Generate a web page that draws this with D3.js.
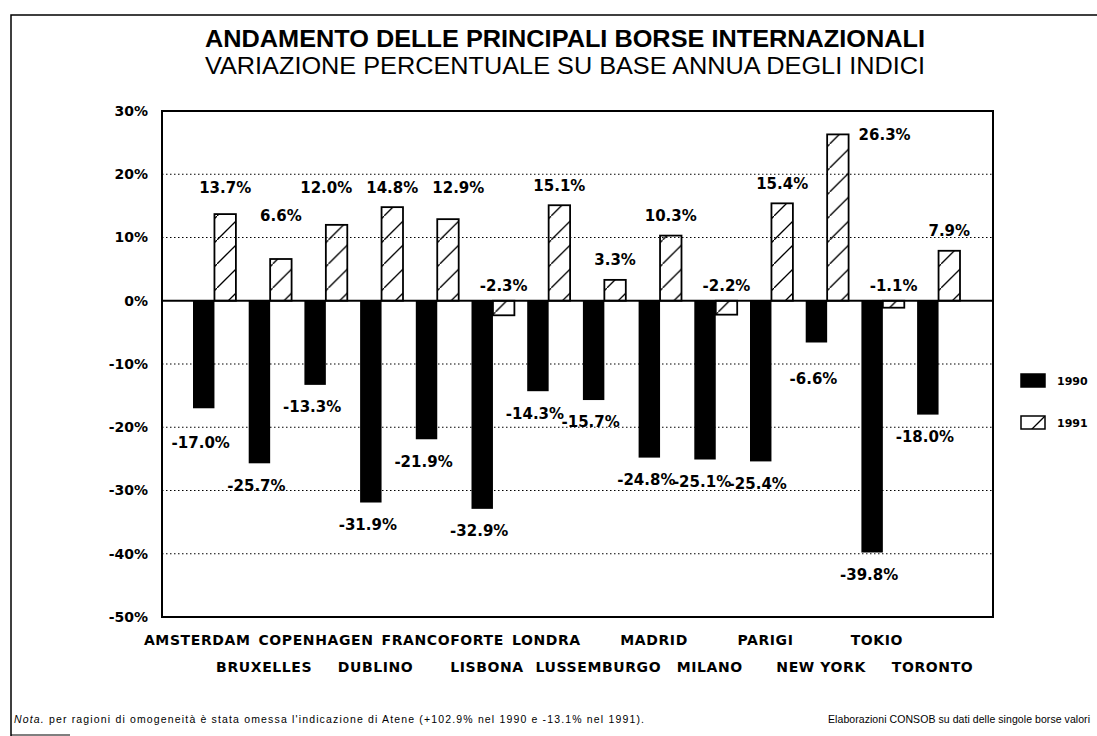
<!DOCTYPE html>
<html>
<head>
<meta charset="utf-8">
<script src="https://cdn.jsdelivr.net/npm/d3@7"></script>
<style>
  body { margin: 0; background: #fff; }
  svg { display: block; }
</style>
</head>
<body>
<div id="container"></div>
<script>
let w = 1097;
let h = 736;

// data
let cities = ['AMSTERDAM', 'BRUXELLES', 'COPENHAGEN', 'DUBLINO', 'FRANCOFORTE', 'LISBONA', 'LONDRA',
  'LUSSEMBURGO', 'MADRID', 'MILANO', 'PARIGI', 'NEW YORK', 'TOKIO', 'TORONTO'];
let years = ['1990', '1991'];
let v1990 = [-17.0, -25.7, -13.3, -31.9, -21.9, -32.9, -14.3, -15.7, -24.8, -25.1, -25.4, -6.6, -39.8, -18.0];
let v1991 = [13.7, 6.6, 12.0, 14.8, 12.9, -2.3, 15.1, 3.3, 10.3, -2.2, 15.4, 26.3, -1.1, 7.9];
let yTicks = [30, 20, 10, 0, -10, -20, -30, -40, -50];
let gridTicks = [20, 10, -10, -20, -30, -40];

let plot = {left: 162, right: 993, top: 111, bottom: 617};

let viz = d3.select('#container').append('svg')
    .attr('width', w)
    .attr('height', h);

let defs = viz.append('defs');
defs.append('pattern')
    .attr('id', 'hatch')
    .attr('patternUnits', 'userSpaceOnUse')
    .attr('width', 24)
    .attr('height', 24)
  .append('path')
    .attr('d', 'M-2,26 L26,-2')
    .attr('stroke', '#000')
    .attr('stroke-width', 1.3);

let x = d3.scaleBand()
    .domain(cities)
    .range([186.6, 966.4])
    .paddingInner(0.23)
    .paddingOuter(0.115);

let xs = d3.scaleBand()
    .domain(years)
    .range([0, x.bandwidth()]);

let y = d3.scaleLinear()
    .domain([-50, 30])
    .range([plot.bottom, plot.top]);

// page frame (scan edge)
viz.append('path')
    .attr('d', 'M11,736 L11,15 L1097,15')
    .attr('fill', 'none')
    .attr('stroke', '#000')
    .attr('stroke-width', 1.5);
viz.append('path')
    .attr('d', 'M11,735 L70,735')
    .attr('stroke', '#000')
    .attr('stroke-width', 1.2);

// titles
viz.append('text')
    .text('ANDAMENTO DELLE PRINCIPALI BORSE INTERNAZIONALI')
    .attr('x', 205)
    .attr('y', 47)
    .attr('textLength', 720)
    .attr('lengthAdjust', 'spacingAndGlyphs')
    .attr('font-family', 'Liberation Sans, Arial, sans-serif')
    .attr('font-weight', 'bold')
    .attr('font-size', '23px');

viz.append('text')
    .text('VARIAZIONE PERCENTUALE SU BASE ANNUA DEGLI INDICI')
    .attr('x', 205)
    .attr('y', 74)
    .attr('textLength', 720)
    .attr('lengthAdjust', 'spacingAndGlyphs')
    .attr('font-family', 'Liberation Sans, Arial, sans-serif')
    .attr('font-size', '23px');

// gridlines
viz.append('g')
    .selectAll('line')
    .data(gridTicks)
    .join('line')
    .attr('x1', plot.left)
    .attr('x2', plot.right)
    .attr('y1', d => y(d))
    .attr('y2', d => y(d))
    .attr('stroke', '#000')
    .attr('stroke-width', 1.2)
    .attr('stroke-dasharray', '1.5,2.5');

// y axis labels
let yAxis = viz.append('g')
    .attr('transform', `translate(${plot.left},0)`)
    .call(d3.axisLeft(y).tickValues(yTicks).tickSize(0).tickPadding(14).tickFormat(d => d + '%'));
yAxis.select('.domain').remove();
yAxis.selectAll('text')
    .attr('font-family', 'DejaVu Sans, sans-serif')
    .attr('font-weight', 'bold')
    .attr('font-size', '14px')
    .attr('fill', '#000');

// bars
let groups = viz.append('g')
    .selectAll('g')
    .data(cities)
    .join('g')
    .attr('transform', d => `translate(${x(d)},0)`);

groups.append('rect')
    .attr('x', xs('1990'))
    .attr('width', xs.bandwidth())
    .attr('y', (d, i) => y(Math.max(0, v1990[i])))
    .attr('height', (d, i) => Math.abs(y(v1990[i]) - y(0)))
    .attr('fill', '#000');

groups.append('rect')
    .attr('x', xs('1991'))
    .attr('width', xs.bandwidth())
    .attr('y', (d, i) => y(Math.max(0, v1991[i])))
    .attr('height', (d, i) => Math.abs(y(v1991[i]) - y(0)))
    .attr('fill', 'url(#hatch)')
    .attr('stroke', '#000')
    .attr('stroke-width', 1.8);

// zero line
viz.append('line')
    .attr('x1', plot.left)
    .attr('x2', plot.right)
    .attr('y1', y(0))
    .attr('y2', y(0))
    .attr('stroke', '#000')
    .attr('stroke-width', 1.8);

// frame
viz.append('rect')
    .attr('x', plot.left)
    .attr('y', plot.top)
    .attr('width', plot.right - plot.left)
    .attr('height', plot.bottom - plot.top)
    .attr('fill', 'none')
    .attr('stroke', '#000')
    .attr('stroke-width', 2);

// value labels, nudged off the gridlines like the original
function avoidGrid(cy, dir) {
  for (let g of gridTicks) {
    if (Math.abs(cy - y(g)) < 5) return y(g) + (dir > 0 ? 15 : -22);
  }
  return cy;
}

// push apart labels sitting on the same line
function spread(sel, gap) {
  let its = sel.nodes().map(n => ({
    n: n,
    cx: +n.getAttribute('x'),
    cy: +n.getAttribute('y'),
    off: x(d3.select(n).datum()),
    len: n.getComputedTextLength(),
    anchor: n.getAttribute('text-anchor')
  })).filter(d => d.anchor === 'middle');
  its.forEach(d => { d.ax = d.cx + d.off; });
  for (let k = 0; k < 60; k++) {
    for (let j = 0; j < its.length - 1; j++) {
      let a = its[j], b = its[j + 1];
      if (Math.abs(a.cy - b.cy) > 14) continue;
      let over = (a.ax + a.len / 2 + gap) - (b.ax - b.len / 2);
      if (over > 0) { a.ax -= over / 2; b.ax += over / 2; }
    }
  }
  its.forEach(d => d3.select(d.n).attr('x', d.ax - d.off));
}

let fmt = v => v.toFixed(1) + '%';

groups.append('text')
    .text((d, i) => fmt(v1990[i]))
    .attr('x', xs('1990') + xs.bandwidth() / 2 - 3)
    .attr('y', (d, i) => avoidGrid(y(v1990[i]) + 22, 1))
    .attr('dy', '0.36em')
    .attr('text-anchor', 'middle')
    .attr('font-family', 'DejaVu Sans, sans-serif')
    .attr('font-weight', 'bold')
    .attr('font-size', '15px');

let lab91 = groups.append('text')
    .text((d, i) => fmt(v1991[i]))
    .attr('dy', '0.36em')
    .attr('font-family', 'DejaVu Sans, sans-serif')
    .attr('font-weight', 'bold')
    .attr('font-size', '15px')
    .each(function (d, i) {
      let v = v1991[i];
      let t = d3.select(this);
      let cx = xs('1991') + xs.bandwidth() / 2;
      if (v < 0) {
        t.attr('x', cx).attr('y', y(0) - 15).attr('text-anchor', 'middle');
      } else if (y(v) - 20 < plot.top + 12) {
        t.attr('x', xs('1991') + xs.bandwidth() + 10).attr('y', y(v)).attr('text-anchor', 'start');
      } else {
        let cy = avoidGrid(y(v) - 20, -1);
        // bars topping out between 10% and 20%: labels share one line under the 20% grid
        if (v > 10.5 && v < 20) cy = Math.min(cy, y(20) + 13);
        t.attr('x', cx).attr('y', cy).attr('text-anchor', 'middle');
      }
    });
spread(lab91, 14);

// category labels in two staggered rows
let xAxis = viz.append('g')
    .attr('transform', `translate(0,${plot.bottom})`)
    .call(d3.axisBottom(x).tickSize(0).tickPadding(0));
xAxis.select('.domain').remove();
let xLabels = xAxis.selectAll('text')
    .attr('y', (d, i) => i % 2 === 0 ? 28 : 55)
    .attr('dy', 0)
    .attr('font-family', 'DejaVu Sans, sans-serif')
    .attr('font-weight', 'bold')
    .attr('font-size', '14px')
    .attr('letter-spacing', '0.6px')
    .attr('fill', '#000');

// push apart labels of the same row so they do not collide
let items = xLabels.nodes().map((node, i) => ({
  node: node,
  row: i % 2,
  base: x(cities[i]) + x.bandwidth() / 2,
  cx: x(cities[i]) + x.bandwidth() / 2 - 6,
  len: node.getComputedTextLength()
}));
for (let k = 0; k < 60; k++) {
  for (let r = 0; r < 2; r++) {
    let row = items.filter(d => d.row === r);
    for (let j = 0; j < row.length - 1; j++) {
      let a = row[j], b = row[j + 1];
      let over = (a.cx + a.len / 2 + 8) - (b.cx - b.len / 2);
      if (over > 0) { a.cx -= over / 2; b.cx += over / 2; }
    }
  }
}
items.forEach(d => d3.select(d.node).attr('x', d.cx - d.base));

// legend
let legend = viz.append('g')
    .selectAll('g')
    .data(years)
    .join('g')
    .attr('transform', (d, i) => `translate(1021,${374 + i * 42})`);

legend.append('rect')
    .attr('width', 24)
    .attr('height', 13)
    .attr('fill', d => d === '1990' ? '#000' : 'url(#hatch)')
    .attr('stroke', '#000')
    .attr('stroke-width', 1.5);

legend.append('text')
    .text(d => d)
    .attr('x', 36)
    .attr('y', 7)
    .attr('dy', '0.36em')
    .attr('font-family', 'DejaVu Sans, sans-serif')
    .attr('font-weight', 'bold')
    .attr('font-size', '11px');

// footnotes
let note = viz.append('text')
    .attr('x', 14)
    .attr('y', 723)
    .attr('textLength', 630)
    .attr('lengthAdjust', 'spacing')
    .attr('font-family', 'Liberation Sans, Arial, sans-serif')
    .attr('font-size', '10.5px');
note.append('tspan')
    .attr('font-style', 'italic')
    .text('Nota.');
note.append('tspan')
    .text(' per ragioni di omogeneità è stata omessa l\'indicazione di Atene (+102.9% nel 1990 e -13.1% nel 1991).');

viz.append('text')
    .text('Elaborazioni CONSOB su dati delle singole borse valori')
    .attr('x', 828)
    .attr('y', 723)
    .attr('textLength', 262)
    .attr('lengthAdjust', 'spacing')
    .attr('font-family', 'Liberation Sans, Arial, sans-serif')
    .attr('font-size', '10.5px');
</script>
</body>
</html>
